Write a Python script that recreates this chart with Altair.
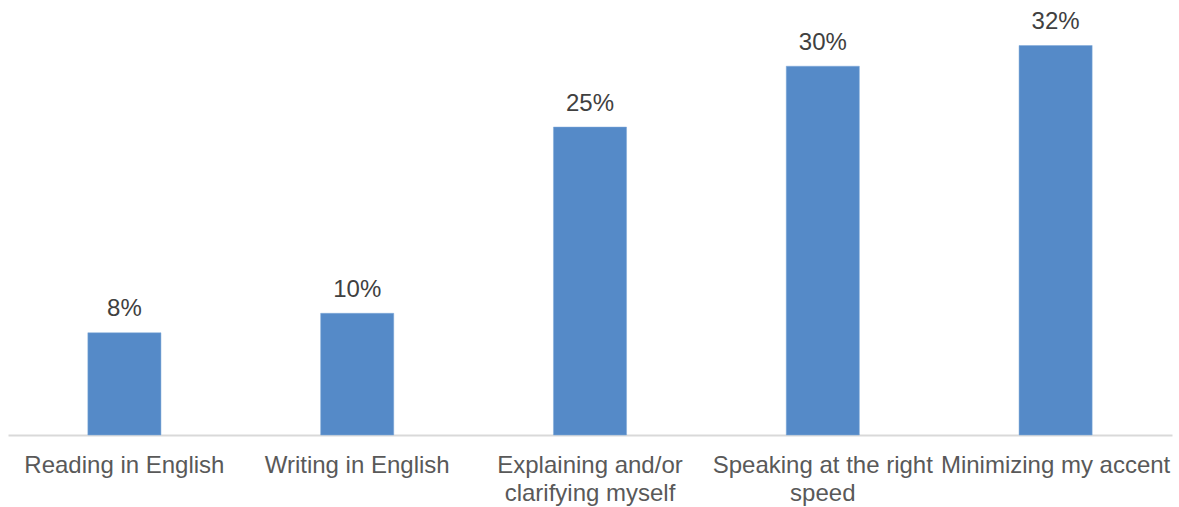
import altair as alt
import pandas as pd

categories = ["Reading in English", "Writing in English", "Explaining and/or\nclarifying myself",
              "Speaking at the right\nspeed", "Minimizing my accent"]
values = [0.084, 0.100, 0.253, 0.303, 0.320]
labels = ["8%", "10%", "25%", "30%", "32%"]

df = pd.DataFrame({"cat": categories, "value": values, "label": labels})

x = alt.X("cat:N", sort=categories, title=None,
          scale=alt.Scale(paddingInner=0.686, paddingOuter=0.343),
          axis=alt.Axis(labelAngle=0, ticks=False, domainColor="#d9d9d9", domainWidth=2,
                        labelFont="Liberation Sans", labelFontSize=24, labelColor="#595959",
                        labelPadding=18, labelLimit=400, labelOverlap=False,
                        labelLineHeight=28, labelExpr="split(datum.label, '\\n')"))
y = alt.Y("value:Q", scale=alt.Scale(domain=[0, 0.35], nice=False), axis=None)

bars = alt.Chart(df).mark_bar(color="#558ac8", stroke="#7fa8d8", strokeWidth=0.5).encode(x=x, y=y)
text = alt.Chart(df).mark_text(dy=-16.5, baseline="alphabetic", font="Liberation Sans",
                               fontSize=24, color="#404040").encode(x=x, y=y, text="label:N")

chart = (bars + text).properties(
    width=1164, height=426,
    background="white",
    autosize=alt.AutoSizeParams(type="none"),
    padding={"left": 8, "top": 9, "right": 7, "bottom": 72},
).configure_view(strokeWidth=0)

chart.save("out.html", embed_options={"renderer": "svg", "actions": False})
